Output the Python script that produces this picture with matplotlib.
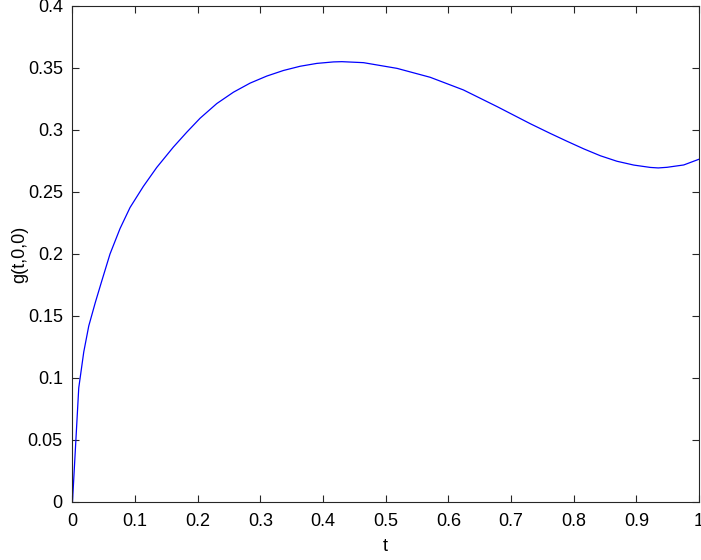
import matplotlib
matplotlib.use("Agg")
import matplotlib.pyplot as plt

plt.rcParams['font.family'] = ['Liberation Sans', 'DejaVu Sans']

# values
t = [0.0, 0.01, 0.018, 0.026, 0.0365, 0.0466, 0.0599, 0.0759, 0.0919, 0.1131,
     0.1345, 0.161, 0.1824, 0.2037, 0.2303, 0.257, 0.2835, 0.3102, 0.3368,
     0.3634, 0.39, 0.4166, 0.43, 0.4645, 0.518, 0.571, 0.624, 0.678, 0.731,
     0.7628, 0.789, 0.816, 0.8427, 0.869, 0.896, 0.9225, 0.935, 0.949,
     0.9757, 1.0]
g = [0.0, 0.092, 0.121, 0.142, 0.161, 0.178, 0.200, 0.2205, 0.2375, 0.2545,
     0.2698, 0.2862, 0.2982, 0.3095, 0.3213, 0.3305, 0.3378, 0.3435, 0.3480,
     0.3514, 0.3537, 0.3549, 0.3551, 0.3543, 0.3497, 0.3425, 0.3323, 0.3188,
     0.3050, 0.2972, 0.2910, 0.2848, 0.2792, 0.2748, 0.2717, 0.2698, 0.2694,
     0.2699, 0.2718, 0.2764]

xticks = [0, 0.1, 0.2, 0.3, 0.4, 0.5, 0.6, 0.7, 0.8, 0.9, 1]
xlabels = ['0', '0.1', '0.2', '0.3', '0.4', '0.5', '0.6', '0.7', '0.8', '0.9', '1']
yticks = [0, 0.05, 0.1, 0.15, 0.2, 0.25, 0.3, 0.35, 0.4]
ylabels = ['0', '0.05', '0.1', '0.15', '0.2', '0.25', '0.3', '0.35', '0.4']

fig = plt.figure(figsize=(7.01, 5.6), dpi=100)
ax = fig.add_axes([0.1034, 0.1036, 0.8937, 0.8857])

ax.plot(t, g, color='blue', linewidth=0.9)

ax.set_xlim(0, 1)
ax.set_ylim(0, 0.4)
ax.set_xticks(xticks)
ax.set_yticks(yticks)
ax.set_xticklabels(xlabels)
ax.set_yticklabels(ylabels)

ax.tick_params(direction='in', top=True, right=True, length=5, width=0.8,
               labelsize=13, colors='#262626', labelcolor='black')
ax.tick_params(axis='y', pad=7)
ax.tick_params(axis='x', pad=8)
for s in ax.spines.values():
    s.set_color('#262626')
    s.set_linewidth(0.8)

ax.set_xlabel('t', fontsize=13, va='center')
ax.xaxis.set_label_coords(0.5, -0.089)
ax.set_ylabel('g(t,0,0)', fontsize=13, va='center')
ax.yaxis.set_label_coords(-0.084, 0.5)

fig.savefig('out.png', dpi=100)
